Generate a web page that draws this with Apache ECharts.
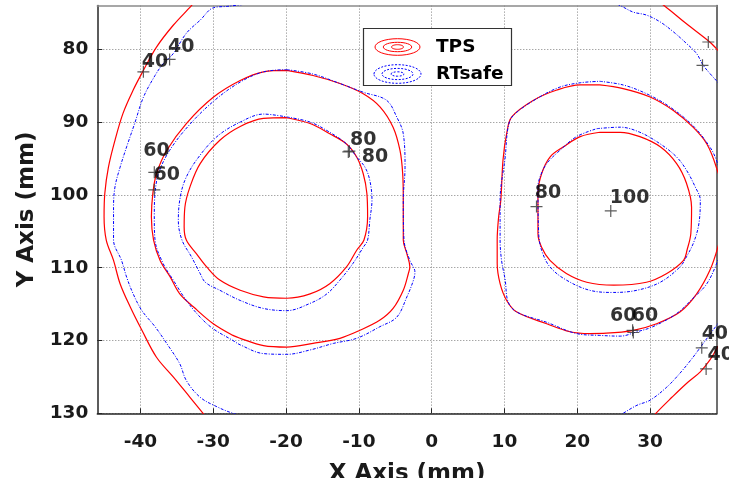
<!DOCTYPE html>
<html><head><meta charset="utf-8">
<script src="https://cdn.jsdelivr.net/npm/echarts@6/dist/echarts.min.js"></script>
<style>html,body{margin:0;padding:0;background:#fff}#c{width:729px;height:478px}</style>
</head><body><div id="c"></div>
<script>
// ---- axis ticks ----
const xTicks = [-40, -30, -20, -10, 0, 10, 20, 30];
const yTicks = [80, 90, 100, 110, 120, 130];
const xRange = [-45.93, 39.18];
const yRange = [74, 130];

// ---- TPS contours (red, solid) ----
const tps40Left = [[-32.2,73.0],[-33.0,74.0],[-35.5,76.7],[-37.8,79.7],[-39.6,82.9],[-41.0,85.6],[-42.4,88.8],[-43.5,92.5],[-44.4,96.2],[-44.9,99.8],[-45.0,103.0],[-44.7,106.2],[-43.7,109.0],[-42.8,112.2],[-41.4,115.4],[-39.8,118.6],[-37.8,122.3],[-35.5,125.0],[-33.2,127.8],[-31.4,130.0],[-30.6,131.0]];
const tps60Left = [[-19.9,82.9],[-16.3,83.6],[-12.6,84.7],[-9.4,86.1],[-7.1,87.9],[-5.3,90.7],[-4.35,93.9],[-3.98,97.1],[-3.9,100.7],[-3.9,106.2],[-3.4,108.1],[-3.0,109.9],[-3.2,110.8],[-3.9,113.1],[-5.3,115.6],[-7.1,117.2],[-9.85,118.6],[-12.6,119.7],[-16.3,120.4],[-19.9,120.9],[-23.1,120.7],[-26.3,119.7],[-27.3,119.3],[-30.0,117.7],[-32.7,115.4],[-34.6,113.6],[-35.9,111.3],[-37.3,109.0],[-38.2,106.2],[-38.5,103.0],[-38.3,99.8],[-37.8,97.1],[-36.4,93.9],[-33.7,90.2],[-30.0,86.6],[-26.3,84.3],[-23.1,83.1],[-19.9,82.9]];
const tps80Left = [[-19.9,89.4],[-16.7,90.2],[-14.0,91.6],[-11.7,93.0],[-10.3,94.8],[-9.4,97.1],[-8.9,99.8],[-8.8,103.0],[-9.3,106.2],[-10.3,107.6],[-11.7,109.9],[-14.0,112.2],[-16.7,113.6],[-19.9,114.2],[-23.1,114.0],[-26.3,113.1],[-29.1,111.7],[-30.9,109.9],[-32.3,108.1],[-33.7,106.2],[-34.0,104.4],[-33.9,101.7],[-33.2,98.9],[-31.8,95.7],[-29.1,92.5],[-26.3,90.6],[-23.1,89.5],[-19.9,89.4]];
const tps60Right = [[23.1,84.9],[26.3,85.4],[30.0,86.55],[33.2,88.4],[35.9,90.7],[37.8,93.0],[39.1,96.2],[40.0,100.0],[40.0,104.0],[39.3,107.2],[38.2,110.4],[36.4,113.6],[34.1,116.1],[30.9,117.7],[27.7,118.6],[24.0,119.0],[21.7,119.05],[19.0,118.8],[15.8,117.7],[11.7,116.1],[10.3,114.5],[9.4,112.2],[9.0,109.4],[9.0,106.2],[9.2,103.0],[9.5,100.7],[9.8,95.2],[10.3,91.6],[11.0,89.3],[14.0,87.0],[17.2,85.6],[20.4,84.9],[23.1,84.9]];
const tps80Right = [[23.1,91.4],[25.9,91.4],[28.6,92.0],[31.4,93.4],[33.65,95.7],[35.0,98.4],[35.7,101.7],[35.6,105.3],[35.1,107.5],[34.6,109.0],[32.3,110.8],[29.5,112.0],[25.0,112.4],[21.3,112.0],[18.5,110.8],[16.25,109.0],[15.1,107.2],[14.6,105.3],[14.6,99.8],[15.1,97.1],[16.25,94.8],[18.1,93.4],[20.4,92.0],[23.1,91.4]];
const tps40TopRight = [[31.0,73.4],[32.0,74.05],[35.0,76.5],[38.2,79.0],[39.1,79.9],[40.0,80.8]];
const tps40BottomRight = [[30.0,131.0],[30.8,130.0],[33.0,127.8],[35.0,125.9],[36.9,124.3],[38.2,122.7],[39.3,120.9],[40.0,119.8]];

// ---- RTsafe contours (blue, dash-dot) ----
const rts40Left = [[-24.0,73.6],[-28.0,74.1],[-30.0,74.3],[-31.8,76.0],[-33.7,77.8],[-35.5,80.6],[-36.9,82.0],[-38.0,83.6],[-39.6,86.6],[-40.8,90.2],[-41.9,93.4],[-42.8,96.2],[-43.5,98.9],[-43.7,101.7],[-43.7,106.2],[-42.6,109.0],[-41.9,111.3],[-41.0,113.6],[-39.8,115.9],[-38.0,118.1],[-36.4,120.4],[-34.6,123.2],[-33.7,125.5],[-31.8,127.8],[-29.5,129.1],[-27.3,130.0],[-25.0,130.6]];
const rts60Left = [[-19.9,82.8],[-16.3,83.4],[-12.6,84.7],[-9.4,85.9],[-6.2,87.0],[-4.8,89.3],[-3.9,91.6],[-3.66,96.2],[-3.9,100.7],[-3.8,106.2],[-3.0,109.0],[-2.3,110.6],[-2.5,111.7],[-3.4,114.0],[-4.8,116.8],[-7.1,118.1],[-10.3,119.7],[-13.5,120.4],[-16.7,121.3],[-19.9,121.9],[-23.1,121.8],[-26.3,120.6],[-27.3,120.0],[-30.0,118.4],[-31.8,116.8],[-33.7,114.5],[-35.5,111.7],[-36.9,109.4],[-38.0,106.2],[-38.1,103.0],[-38.0,99.8],[-37.5,97.0],[-36.0,93.9],[-33.3,90.4],[-29.8,87.0],[-26.3,84.5],[-23.1,83.1],[-19.9,82.8]];
const rts80Left = [[-19.9,89.3],[-16.7,90.0],[-14.0,91.4],[-11.7,93.0],[-10.3,94.8],[-9.16,96.2],[-8.5,98.0],[-8.2,100.7],[-8.5,103.5],[-8.8,106.2],[-9.4,107.2],[-10.8,109.4],[-12.6,111.7],[-14.4,113.6],[-16.7,114.9],[-19.9,115.9],[-23.1,115.6],[-26.3,114.5],[-29.1,113.1],[-31.1,112.0],[-31.8,110.8],[-33.0,108.5],[-34.3,106.2],[-34.8,103.5],[-34.6,100.7],[-33.9,98.0],[-32.3,95.2],[-29.5,92.0],[-26.3,90.0],[-23.1,88.9],[-19.9,89.3]];
const rts60Right = [[23.1,84.4],[26.3,84.9],[29.5,86.1],[32.7,87.9],[35.9,90.5],[38.2,93.4],[39.1,95.2],[40.2,99.0],[40.2,106.0],[39.3,109.0],[37.8,112.2],[35.9,114.2],[33.65,116.3],[30.4,118.1],[28.2,118.8],[25.9,119.4],[23.1,119.3],[19.9,119.05],[15.8,117.5],[11.7,116.1],[10.5,114.7],[10.1,111.7],[9.6,109.0],[9.4,106.2],[9.4,100.7],[10.1,94.8],[10.5,90.7],[11.2,89.1],[14.4,86.8],[17.6,85.2],[20.4,84.6],[23.1,84.4]];
const rts80Right = [[22.7,90.9],[25.9,90.7],[28.6,91.4],[31.4,93.0],[33.65,94.8],[35.0,96.6],[36.2,98.9],[36.9,100.7],[36.7,104.0],[36.0,106.5],[35.0,108.5],[34.1,109.9],[31.4,112.0],[28.2,113.1],[25.0,113.4],[21.7,113.1],[18.5,111.7],[16.25,109.9],[15.1,107.6],[14.7,105.3],[14.6,98.9],[14.9,97.5],[15.8,95.7],[17.6,93.9],[19.9,92.0],[22.7,90.9]];
const rts40TopRight = [[25.5,73.8],[26.3,74.2],[27.7,74.9],[29.5,75.3],[31.4,76.25],[33.2,77.6],[35.0,79.2],[36.4,80.6],[37.3,82.2],[38.2,83.3],[39.1,84.3],[40.0,85.3]];
const rts40BottomRight = [[25.5,130.5],[26.3,130.0],[28.2,128.9],[30.0,128.2],[32.3,126.4],[34.1,124.5],[35.9,122.3],[37.3,120.4],[39.3,117.7],[40.0,116.8]];

// ---- contour label markers (+) ----
const markerX = [-39.6, -36.0, -38.1, -38.1, -11.45, -11.3, 14.4, 24.6, 27.6, 27.7, 37.1, 37.7, 38.0, 37.2];
const markerY = [83.1, 81.4, 96.9, 99.3, 94.1, 94.0, 101.6, 102.2, 118.6, 118.9, 121.0, 123.9, 79.0, 82.2];

// ---- contour label texts (text anchor in data units) ----
const labelText = ['40', '40', '60', '60', '80', '80', '80', '100', '60', '60', '40', '40'];
const labelX = [-38.0, -34.4, -37.8, -36.4, -9.4, -7.8, 15.97, 27.2, 26.3, 29.3, 38.9, 39.7];
const labelY = [81.74, 79.7, 93.97, 97.3, 92.5, 94.8, 99.8, 100.5, 116.6, 116.6, 119.1, 122.0];

const FONT = '"DejaVu Sans", Arial, sans-serif';
const TXT = '#1a1a1a';
const RED = '#ff0000', BLUE = '#0000ff';

function contour(data, color, dashed) {
  return {
    type: 'line', data: data, symbol: 'none', showSymbol: false, clip: true, silent: true,
    smooth: 0.35, animation: false, z: dashed ? 3 : 2,
    lineStyle: { color: color, width: dashed ? 1 : 1.2, type: dashed ? [3, 1.5, 1, 1.5] : 'solid' }
  };
}

const series = [
  contour(tps40Left, RED, false), contour(tps60Left, RED, false), contour(tps80Left, RED, false),
  contour(tps60Right, RED, false), contour(tps80Right, RED, false),
  contour(tps40TopRight, RED, false), contour(tps40BottomRight, RED, false),
  contour(rts40Left, BLUE, true), contour(rts60Left, BLUE, true), contour(rts80Left, BLUE, true),
  contour(rts60Right, BLUE, true), contour(rts80Right, BLUE, true),
  contour(rts40TopRight, BLUE, true), contour(rts40BottomRight, BLUE, true),
  {
    type: 'scatter', clip: false, silent: true, z: 5,
    data: markerX.map((x, i) => [x, markerY[i]]),
    symbol: 'path://M4.5,0H5.5V4.5H10V5.5H5.5V10H4.5V5.5H0V4.5H4.5Z',
    symbolSize: 12, itemStyle: { color: '#333333' }
  },
  {
    type: 'scatter', clip: false, silent: true, z: 6,
    data: labelText.map((t, i) => ({ value: [labelX[i], labelY[i]], name: t })),
    symbolSize: 1, itemStyle: { color: 'rgba(0,0,0,0)' },
    label: { show: true, position: 'inside', formatter: '{b}', fontFamily: FONT, fontWeight: 'bold', fontSize: 19, color: '#000' }
  }
];

const chart = echarts.init(document.getElementById('c'), null, { renderer: 'canvas' });
chart.setOption({
  animation: false,
  backgroundColor: '#ffffff',
  grid: { left: 97.3, right: 12.1, top: 5.6, bottom: 64.7, containLabel: false, outerBoundsMode: 'none' },
  xAxis: [{
    type: 'value', min: xRange[0], max: xRange[1], position: 'bottom',
    name: 'X Axis (mm)', nameLocation: 'middle', nameGap: 49,
    nameTextStyle: { fontFamily: FONT, fontWeight: 'bold', fontSize: 23, color: TXT },
    axisLine: { show: true, onZero: false, lineStyle: { color: '#262626', width: 1.5 } },
    axisTick: { show: true, inside: true, length: 5, customValues: xTicks, lineStyle: { color: '#262626' } },
    axisLabel: { customValues: xTicks, margin: 19, fontFamily: FONT, fontWeight: 'bold', fontSize: 18.5, color: TXT },
    splitLine: { show: true, lineStyle: { color: '#808080', type: [1, 2], width: 1 } }
  }, {
    type: 'value', min: xRange[0], max: xRange[1], position: 'top',
    axisLine: { show: true, onZero: false, lineStyle: { color: '#8a8a8a', width: 1.5 } },
    axisTick: { show: false }, axisLabel: { show: false }, splitLine: { show: false }
  }],
  yAxis: [{
    type: 'value', min: yRange[0], max: yRange[1], inverse: true, position: 'left',
    name: 'Y Axis (mm)', nameLocation: 'middle', nameGap: 52,
    nameTextStyle: { fontFamily: FONT, fontWeight: 'bold', fontSize: 23, color: TXT },
    axisLine: { show: true, onZero: false, lineStyle: { color: '#262626', width: 1.5 } },
    axisTick: { show: true, inside: true, length: 5, customValues: yTicks, lineStyle: { color: '#262626' } },
    axisLabel: { customValues: yTicks, margin: 9, fontFamily: FONT, fontWeight: 'bold', fontSize: 18.5, color: TXT },
    splitLine: { show: true, lineStyle: { color: '#808080', type: [1, 2], width: 1 } }
  }, {
    type: 'value', min: yRange[0], max: yRange[1], inverse: true, position: 'right',
    axisLine: { show: true, onZero: false, lineStyle: { color: '#404040', width: 1.5 } },
    axisTick: { show: false }, axisLabel: { show: false }, splitLine: { show: false }
  }],
  series: series,
  graphic: [
    { type: 'rect', z: 100, shape: { x: 363.5, y: 28.5, width: 148, height: 57 }, style: { fill: '#ffffff', stroke: '#333333', lineWidth: 1.2 } },
    { type: 'ellipse', z: 101, shape: { cx: 397.5, cy: 47, rx: 22.5, ry: 8.3 }, style: { fill: 'none', stroke: RED, lineWidth: 1 } },
    { type: 'ellipse', z: 101, shape: { cx: 397.5, cy: 47, rx: 14.2, ry: 4.7 }, style: { fill: 'none', stroke: RED, lineWidth: 1 } },
    { type: 'ellipse', z: 101, shape: { cx: 397.5, cy: 47, rx: 6, ry: 2.3 }, style: { fill: 'none', stroke: RED, lineWidth: 1 } },
    { type: 'ellipse', z: 101, shape: { cx: 397.5, cy: 74, rx: 23.5, ry: 9.3 }, style: { fill: 'none', stroke: BLUE, lineWidth: 1, lineDash: [2, 1.5] } },
    { type: 'ellipse', z: 101, shape: { cx: 397.5, cy: 74, rx: 15.5, ry: 5.6 }, style: { fill: 'none', stroke: BLUE, lineWidth: 1, lineDash: [2, 1.5] } },
    { type: 'ellipse', z: 101, shape: { cx: 397.5, cy: 74, rx: 6.5, ry: 2.2 }, style: { fill: 'none', stroke: BLUE, lineWidth: 1, lineDash: [2, 1.5] } },
    { type: 'text', z: 101, style: { x: 436, y: 47, text: 'TPS', fontFamily: FONT, fontWeight: 'bold', fontSize: 18.5, fill: '#000', verticalAlign: 'middle', align: 'left' } },
    { type: 'text', z: 101, style: { x: 436, y: 74, text: 'RTsafe', fontFamily: FONT, fontWeight: 'bold', fontSize: 18.5, fill: '#000', verticalAlign: 'middle', align: 'left' } }
  ]
});
</script>
</body></html>
